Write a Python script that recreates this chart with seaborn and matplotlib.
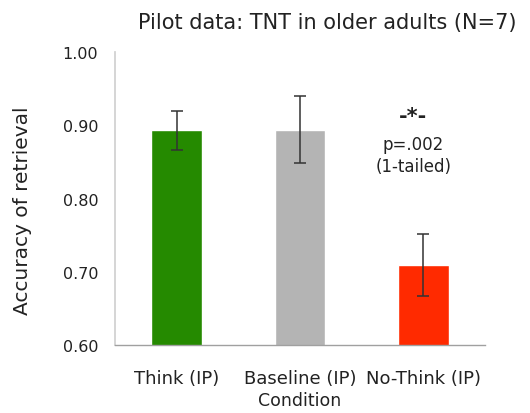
import matplotlib
matplotlib.use("Agg")
import matplotlib.pyplot as plt
import seaborn as sns
import pandas as pd

conditions = ["Think (IP)", "Baseline (IP)", "No-Think (IP)"]
accuracy = [0.893, 0.894, 0.709]
sem = [0.027, 0.046, 0.042]
bar_colors = ["#258A00", "#B4B4B4", "#FF2A00"]
yticks = [0.60, 0.70, 0.80, 0.90, 1.00]

sns.set_theme(style="white")
plt.rcParams["font.family"] = ["DejaVu Sans"]

df = pd.DataFrame({"Condition": conditions, "Accuracy": accuracy})

fig = plt.figure(figsize=(5.3, 4.14), dpi=100)
ax = fig.add_axes([0.217, 0.164, 0.698, 0.708])

sns.barplot(data=df, x="Condition", y="Accuracy", hue="Condition",
            palette=bar_colors, width=0.41, legend=False, ax=ax,
            saturation=1, errorbar=None)
ax.errorbar(range(len(conditions)), accuracy, yerr=sem, fmt="none",
            ecolor="#333333", elinewidth=1.1, capsize=4, capthick=1.1)

ax.set_ylim(0.60, 1.00)
ax.set_xlim(-0.5, 2.5)
ax.set_yticks(yticks)
ax.set_yticklabels([f"{t:.2f}" for t in yticks], fontsize=11.5, color="#222222")
ax.tick_params(axis="x", labelsize=13, colors="#222222", length=0, pad=17)
ax.tick_params(axis="y", length=0, pad=12)

ax.set_xlabel("Condition", fontsize=12.5, color="#222222")
ax.xaxis.set_label_coords(0.5, -0.188)
ax.xaxis.label.set_va("center")
ax.set_ylabel("Accuracy of retrieval", fontsize=14.5, color="#222222")
ax.yaxis.set_label_coords(-0.25, 0.461)
ax.yaxis.label.set_va("center")

sns.despine(ax=ax)
ax.spines["left"].set_color("#D0D0D0")
ax.spines["bottom"].set_color("#A0A0A0")
ax.spines["bottom"].set_linewidth(1.0)

# significance note for the No-Think condition
note_x = 1.92
ax.text(note_x, 0.912, "-*-", ha="center", va="center", fontsize=15, fontweight="bold", color="#222222")
ax.text(note_x, 0.875, "p=.002", ha="center", va="center", fontsize=12, color="#222222")
ax.text(note_x, 0.844, "(1-tailed)", ha="center", va="center", fontsize=12, color="#222222")

fig.text(0.617, 0.945, "Pilot data: TNT in older adults (N=7)", ha="center", va="center",
         fontsize=15, color="#222222")

fig.savefig("out.png", dpi=100)
